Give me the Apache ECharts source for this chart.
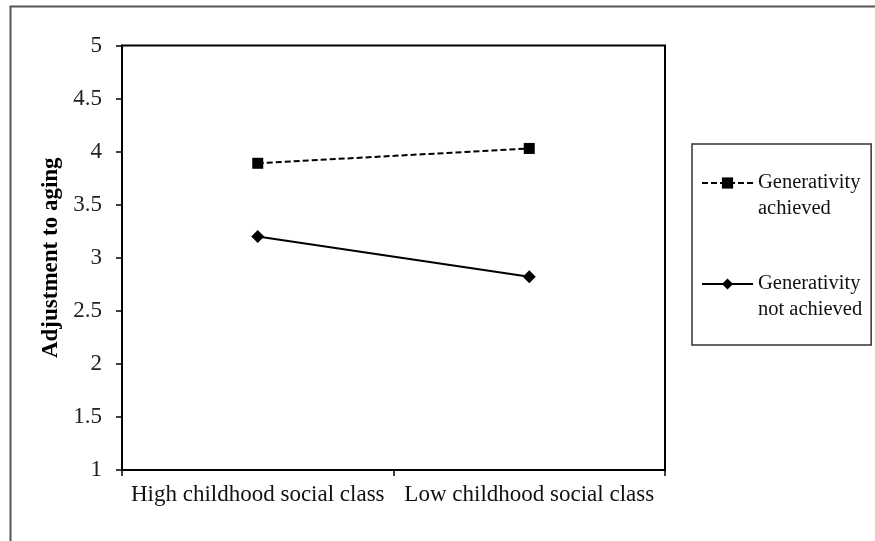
<!DOCTYPE html>
<html>
<head>
<meta charset="utf-8">
<script src="https://cdn.jsdelivr.net/npm/echarts@6/dist/echarts.min.js"></script>
<style>html,body{margin:0;padding:0;background:#fff}#c{width:875px;height:541px}</style>
</head>
<body>
<div id="c"></div>
<script>
const categories = ['High childhood social class', 'Low childhood social class'];
const achieved = [3.89, 4.03];
const notAchieved = [3.20, 2.82];
const yTicks = ['1', '1.5', '2', '2.5', '3', '3.5', '4', '4.5', '5'];
const seriesNames = ['Generativity\nachieved', 'Generativity\nnot achieved'];
const yTitle = 'Adjustment to aging';

const FONT = '"Liberation Serif", "Times New Roman", serif';
const chart = echarts.init(document.getElementById('c'), null, {renderer: 'canvas'});
chart.setOption({
  animation: false,
  backgroundColor: '#fff',
  graphic: [{
    type: 'rect', silent: true,
    shape: {x: 10.5, y: 6.5, width: 1000, height: 1000},
    style: {fill: 'none', stroke: '#555', lineWidth: 2}
  }],
  grid: {
    left: 122, right: 210, top: 45.5, bottom: 71,
    show: true, borderColor: '#000', borderWidth: 2, backgroundColor: 'transparent'
  },
  legend: {
    orient: 'vertical',
    left: 692, top: 144,
    padding: [0, 9, 22, 9],
    itemGap: 23,
    itemWidth: 51, itemHeight: 14,
    borderColor: '#333', borderWidth: 1.5,
    formatter: function (name) { return '\n' + name; },
    textStyle: {fontFamily: FONT, fontSize: 20.5, color: '#111', lineHeight: 26},
    data: seriesNames
  },
  xAxis: {
    type: 'category',
    data: categories,
    boundaryGap: true,
    axisLine: {lineStyle: {color: '#000', width: 2}},
    axisTick: {show: true, interval: 0, length: 6, inside: false, lineStyle: {color: '#000', width: 1.5}},
    axisLabel: {interval: 0, fontFamily: FONT, fontSize: 23, color: '#111', margin: 13},
    splitLine: {show: false}
  },
  yAxis: {
    type: 'value',
    min: 1, max: 5, interval: 0.5,
    name: yTitle,
    nameLocation: 'middle',
    nameGap: 57,
    nameRotate: 90,
    nameTextStyle: {fontFamily: FONT, fontSize: 23, fontWeight: 'bold', color: '#000'},
    axisLine: {show: true, lineStyle: {color: '#000', width: 2}},
    axisTick: {show: true, length: 6, inside: false, lineStyle: {color: '#000', width: 1.5}},
    axisLabel: {
      fontFamily: FONT, fontSize: 23, color: '#222', margin: 20,
      formatter: function (v) { const i = Math.round((v - 1) / 0.5); return yTicks[i] !== undefined ? yTicks[i] : String(v); }
    },
    splitLine: {show: false}
  },
  series: [{
    name: seriesNames[0],
    type: 'line',
    data: achieved,
    symbol: 'rect', symbolSize: 11,
    itemStyle: {color: '#000'},
    lineStyle: {color: '#000', width: 2, type: [6, 3]}
  }, {
    name: seriesNames[1],
    type: 'line',
    data: notAchieved,
    symbol: 'diamond', symbolSize: 13,
    itemStyle: {color: '#000'},
    lineStyle: {color: '#000', width: 2, type: 'solid'}
  }]
});
</script>
</body>
</html>
